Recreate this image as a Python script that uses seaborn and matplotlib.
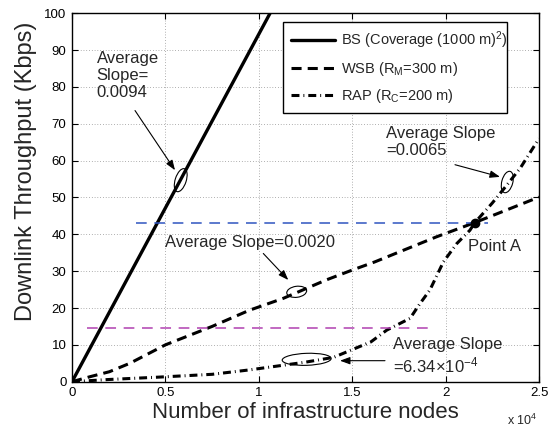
import matplotlib
matplotlib.use("Agg")
import matplotlib.pyplot as plt
import matplotlib.transforms as mtransforms
from matplotlib.patches import Ellipse
import seaborn as sns
import pandas as pd

# ---------------- data ----------------
bs_x = [0, 5300, 10600, 11000]
bs_y = [0, 50, 100, 103.8]

wsb_x = [0, 1000, 2000, 3100, 5000, 7500, 9500, 11300, 13600, 15000, 16200, 19500, 21570, 25000]
wsb_y = [0, 1.4, 2.7, 5.0, 10.0, 15.0, 19.4, 22.6, 27.6, 30.3, 32.5, 39.3, 43.2, 50.1]

rap_x = [0, 2000, 4500, 7500, 9500, 12500, 14000, 16000, 16850, 18100, 18600, 19160,
         19880, 20600, 21300, 21570, 22500, 23300, 24000, 25000]
rap_y = [0, 0.6, 1.2, 2.0, 3.2, 5.3, 6.6, 10.8, 14.0, 17.2, 21.0, 24.9,
         32.5, 37.5, 41.1, 43.2, 48.5, 53.5, 58.0, 66.0]

series_labels = ["BS (Coverage (1000 m)$^2$)", "WSB (R$_M$=300 m)", "RAP (R$_C$=200 m)"]

blue_y = 43.2
blue_x = [3430, 22270]
purple_y = 14.6
purple_x = [790, 19300]

point_a = (21573, 43.2)

x_ticks = [0, 5000, 10000, 15000, 20000, 25000]
x_ticklabels = ["0", "0.5", "1", "1.5", "2", "2.5"]
y_ticks = list(range(0, 101, 10))

# ---------------- style ----------------
sns.set_style("ticks")
plt.rcParams["font.family"] = ["Liberation Sans", "DejaVu Sans"]
plt.rcParams["mathtext.default"] = "regular"

fig = plt.figure(figsize=(5.57, 4.29), dpi=100)
ax = fig.add_axes([0.1293, 0.1103, 0.9677 - 0.1293, 0.969 - 0.1103])

lw = 2.2
sns.lineplot(x=bs_x, y=bs_y, ax=ax, color="black", lw=2.4, linestyle="-",
             label=series_labels[0], sort=False)
sns.lineplot(x=wsb_x, y=wsb_y, ax=ax, color="black", lw=lw, linestyle=(0, (3.3, 2.0)),
             label=series_labels[1], sort=False)
sns.lineplot(x=rap_x, y=rap_y, ax=ax, color="black", lw=lw,
             linestyle=(0, (2.6, 1.3, 0.3, 1.3)), label=series_labels[2], sort=False)

ax.plot(blue_x, [blue_y, blue_y], color="#2f55c0", lw=1.1, linestyle=(0, (7, 5)))
ax.plot(purple_x, [purple_y, purple_y], color="#b040b0", lw=1.1, linestyle=(0, (7, 5)))
ax.plot([point_a[0]], [point_a[1]], "o", color="black", ms=6)

ax.set_xlim(0, 25000)
ax.set_ylim(0, 100)
ax.set_xticks(x_ticks)
ax.set_xticklabels(x_ticklabels)
ax.set_yticks(y_ticks)
ax.tick_params(direction="in", length=4, width=0.8, labelsize=9.5, pad=4,
               top=True, right=True, colors="black")
for s in ax.spines.values():
    s.set_visible(True)
    s.set_linewidth(1.0)
    s.set_color("black")
ax.grid(True, color="#666666", linestyle=(0, (1, 3)), lw=0.5)

ax.set_xlabel("Number of infrastructure nodes", fontsize=16)
ax.set_ylabel("Downlink Throughput (Kbps)", fontsize=17)
ax.xaxis.set_label_coords(0.5, -0.055)
ax.yaxis.set_label_coords(-0.075, 0.572)

fig.text(507 / 557, 1 - 420 / 429, "x 10$^4$", fontsize=9, ha="left", va="center")

leg_w = (507 - 283) / 467
leg = ax.legend(loc="upper left", bbox_to_anchor=(0.452, 0.877, leg_w, 0.1), mode="expand",
                borderaxespad=0, fontsize=10.5, frameon=True, fancybox=False,
                edgecolor="black", handlelength=3.0, labelspacing=0.6, borderpad=0.55,
                handletextpad=0.4)
leg.get_frame().set_linewidth(1.0)
leg.get_frame().set_alpha(1)

# ---------------- annotations ----------------
fs = 12
ax.text(1322, 83.1, "Average\nSlope=\n0.0094", fontsize=fs, ha="left", va="center")
ax.text(16800, 65.0, "Average Slope\n=0.0065", fontsize=fs, ha="left", va="center")
ax.text(4978, 37.9, "Average Slope=0.0020", fontsize=fs, ha="left", va="center")
ax.text(21214, 36.6, "Point A", fontsize=fs, ha="left", va="center")
ax.text(17199, 6.8, "Average Slope\n=6.34$\\times$10$^{-4}$", fontsize=fs, ha="left", va="center")

arrow_kw = dict(arrowstyle="-|>,head_length=0.6,head_width=0.22", color="black", lw=0.8,
                shrinkA=0, shrinkB=0)
ax.annotate("", xy=(5514, 57.4), xytext=(3373, 73.6), arrowprops=arrow_kw)
ax.annotate("", xy=(22911, 55.6), xytext=(20502, 58.9), arrowprops=arrow_kw)
ax.annotate("", xy=(11578, 27.6), xytext=(10240, 34.8), arrowprops=arrow_kw)
ax.annotate("", xy=(14346, 5.7), xytext=(16755, 5.7), arrowprops=arrow_kw)

def ell(x, y, w_px, h_px, ang):
    tr = fig.dpi_scale_trans + mtransforms.ScaledTranslation(x, y, ax.transData)
    e = Ellipse((0, 0), w_px / 100, h_px / 100, angle=ang, transform=tr,
                fill=False, edgecolor="black", lw=0.8)
    ax.add_patch(e)

ell(5819, 54.7, 11, 24, -18)
ell(23302, 54.2, 11, 22, -15)
ell(12028, 24.4, 20, 11, 8)
ell(12563, 6.07, 49, 12, 2)

fig.savefig("out.png", dpi=100)
